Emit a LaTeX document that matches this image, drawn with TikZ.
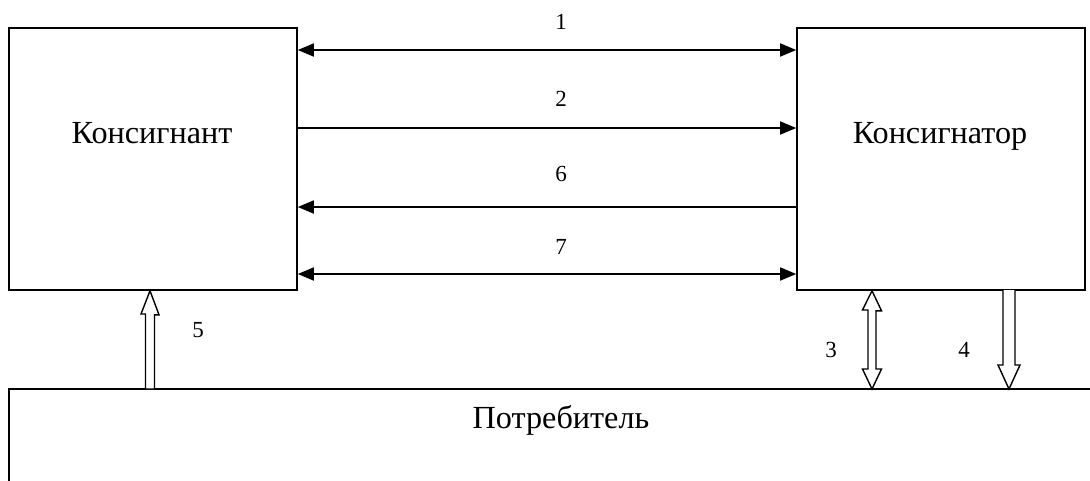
\documentclass[tikz,border=0pt]{standalone}
\usepackage{fontspec}
\setmainfont{Liberation Serif}
\usetikzlibrary{arrows.meta}
\begin{document}
\begin{tikzpicture}[x=1pt,y=-1pt,
  party/.style={draw,line width=1.6pt,minimum width=288pt,minimum height=262pt,inner sep=0pt},
  title/.style={anchor=base,font=\fontsize{32.2}{32}\selectfont,inner sep=0pt},
  num/.style={font=\fontsize{23}{23}\selectfont,inner sep=0pt},
  tip/.style={Triangle[length=16pt,width=13pt]},
  conn/.style={line width=1.7pt,{Triangle[length=16pt,width=13pt]}-{Triangle[length=16pt,width=13pt]}},
  oneway/.style={line width=1.7pt,-{Triangle[length=16pt,width=13pt]}},
  hollow/.style={draw,line width=1.4pt,fill=white,line join=miter}]
\useasboundingbox (0,0) rectangle (1090,480);
\clip (0,0) rectangle (1090,480);

% the two parties and the consumer
\node[party] (snd) at (153,159) {};
\node[party] (rcv) at (941,159) {};
\draw[line width=1.6pt] (9,389) coordinate (cons) rectangle (1100,500);
\node[title] (sndt) at (152,143) {Консигнант};
\node[title] (rcvt) at (940,143) {Консигнатор};
\node[title] (const) at (561,428) {Потребитель};

% flows between consignor and consignee
\draw[conn]   (snd.east |- 0,50)  -- (rcv.west |- 0,50);
\draw[oneway] (snd.east |- 0,128) -- (rcv.west |- 0,128);
\draw[oneway] (rcv.west |- 0,207) -- (snd.east |- 0,207);
\draw[conn]   (snd.east |- 0,274) -- (rcv.west |- 0,274);
\node[num] (n1) at (561,22)  {1};
\node[num] (n2) at (561,99)  {2};
\node[num] (n6) at (561,174) {6};
\node[num] (n7) at (561,247) {7};

% hollow arrows to and from the consumer
% 5: consumer -> consignor
\coordinate (a5) at (snd.south -| 150,0);
\draw[hollow] (a5) -- ++(9,24) -- ++(-4.5,0) -- (154.5,389) -- (145.5,389)
  -- (145.5,314) -- (141,314) -- cycle;
% 3: consignee <-> consumer
\coordinate (a3) at (rcv.south -| 872,0);
\draw[hollow] (a3) -- ++(9.5,20) -- ++(-5.5,0) -- (876,369) -- (881.5,369)
  -- (872,389) -- (862.5,369) -- (868,369) -- (868,310) -- (862.5,310) -- cycle;
% 4: consignee -> consumer
\coordinate (a4) at (rcv.south -| 1009,0);
\draw[hollow] (1003,290) -- (1003,365) -- (998,365) -- (1009,389) -- (1020,365)
  -- (1015,365) -- (1015,290);
\node[num] (n5) at (198,330) {5};
\node[num] (n3) at (831,350) {3};
\node[num] (n4) at (964,350) {4};
\end{tikzpicture}
\end{document}
